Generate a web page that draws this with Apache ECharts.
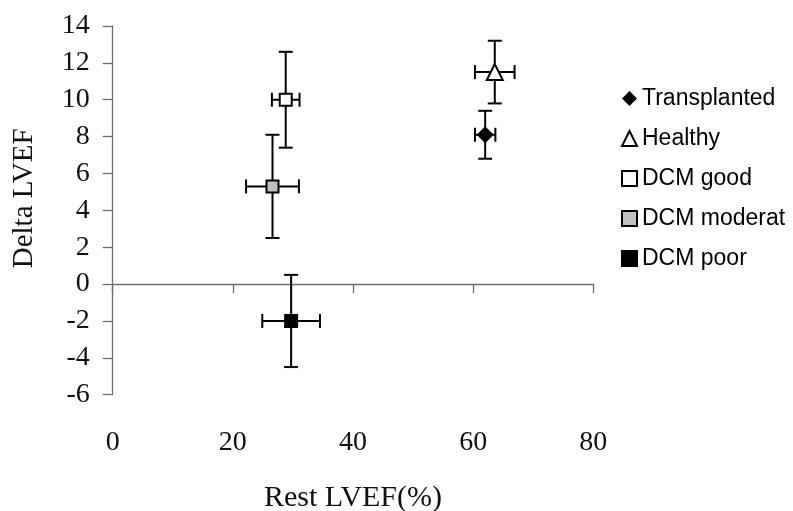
<!DOCTYPE html>
<html>
<head>
<meta charset="utf-8">
<script src="https://cdn.jsdelivr.net/npm/echarts@6/dist/echarts.min.js"></script>
<style>html,body{margin:0;padding:0;background:#fff}#c{width:793px;height:511px}</style>
</head>
<body>
<div id="c"></div>
<script>
const categories = ['Transplanted', 'Healthy', 'DCM good', 'DCM moderat', 'DCM poor'];
const restLVEF = [62.0, 63.6, 28.8, 26.6, 29.7];
const deltaLVEF = [8.1, 11.5, 10.0, 5.3, -2.0];
const restErr = [1.7, 3.3, 2.3, 4.4, 4.8];
const deltaErr = [1.3, 1.7, 2.6, 2.8, 2.5];
const xRange = [0, 80, 20];
const yRange = [-6, 14, 2];
const symbols = ['diamond', 'triangle', 'rect', 'rect', 'rect'];
const symbolSizes = [17, 16, 12, 12, 12];
const fills = ['#000000', '#ffffff', '#ffffff', '#c0c0c0', '#000000'];

const serif = '"Liberation Serif", "DejaVu Serif", serif';
const sans = '"Liberation Sans", Arial, sans-serif';
const axisGrey = '#6e6e6e';

const errData = categories.map((c, i) => [restLVEF[i], deltaLVEF[i], restErr[i], deltaErr[i]]);

const series = [{
  type: 'custom',
  name: 'errors',
  coordinateSystem: 'cartesian2d',
  xAxisIndex: 0, yAxisIndex: 0,
  encode: { x: 0, y: 1 },
  z: 1,
  silent: true,
  data: errData,
  renderItem: function (params, api) {
    const x = api.value(0), y = api.value(1), ex = api.value(2), ey = api.value(3);
    const top = api.coord([x, y + ey]);
    const bot = api.coord([x, y - ey]);
    const lft = api.coord([x - ex, y]);
    const rgt = api.coord([x + ex, y]);
    const cap = 7;
    const st = { stroke: '#000', lineWidth: 2 };
    return {
      type: 'group',
      children: [
        { type: 'line', shape: { x1: top[0], y1: top[1], x2: bot[0], y2: bot[1] }, style: st },
        { type: 'line', shape: { x1: top[0] - cap, y1: top[1], x2: top[0] + cap, y2: top[1] }, style: st },
        { type: 'line', shape: { x1: bot[0] - cap, y1: bot[1], x2: bot[0] + cap, y2: bot[1] }, style: st },
        { type: 'line', shape: { x1: lft[0], y1: lft[1], x2: rgt[0], y2: rgt[1] }, style: st },
        { type: 'line', shape: { x1: lft[0], y1: lft[1] - cap, x2: lft[0], y2: lft[1] + cap }, style: st },
        { type: 'line', shape: { x1: rgt[0], y1: rgt[1] - cap, x2: rgt[0], y2: rgt[1] + cap }, style: st }
      ]
    };
  }
}];

categories.forEach((name, i) => {
  series.push({
    type: 'scatter',
    name: name,
    xAxisIndex: 0, yAxisIndex: 0,
    symbol: symbols[i],
    symbolSize: symbolSizes[i],
    z: 5,
    itemStyle: {
      color: fills[i],
      borderColor: '#000',
      borderWidth: symbols[i] === 'diamond' ? 0 : 2,
      opacity: 1
    },
    emphasis: { disabled: true },
    data: [[restLVEF[i], deltaLVEF[i]]]
  });
});

const chart = echarts.init(document.getElementById('c'), null, { renderer: 'canvas' });
chart.setOption({
  animation: false,
  backgroundColor: '#ffffff',
  grid: { left: 112.7, right: 199.7, top: 26, bottom: 116.3, containLabel: false, outerBoundsMode: 'none' },
  legend: {
    orient: 'vertical',
    left: 616, top: 82,
    itemWidth: 15, itemHeight: 15,
    itemGap: 17,
    itemTextGap: 9,
    data: categories,
    textStyle: { fontFamily: sans, fontSize: 23, color: '#000' },
    selectedMode: false
  },
  xAxis: [{
    type: 'value',
    min: xRange[0], max: xRange[1], interval: xRange[2],
    position: 'bottom',
    axisLine: { show: false, onZero: false },
    axisTick: { show: false },
    splitLine: { show: false },
    axisLabel: { margin: 34, fontFamily: serif, fontSize: 28, color: '#111' },
    name: 'Rest LVEF(%)',
    nameLocation: 'middle',
    nameGap: 88,
    nameTextStyle: { fontFamily: serif, fontSize: 30, color: '#111' }
  }, {
    type: 'value',
    min: xRange[0], max: xRange[1], interval: xRange[2],
    position: 'bottom',
    axisLine: { show: true, onZero: true, lineStyle: { color: axisGrey, width: 1.3 } },
    axisTick: { show: true, length: 9, lineStyle: { color: axisGrey, width: 1.3 } },
    axisLabel: { show: false },
    splitLine: { show: false }
  }],
  yAxis: {
    type: 'value',
    min: yRange[0], max: yRange[1], interval: yRange[2],
    axisLine: { show: true, onZero: false, lineStyle: { color: axisGrey, width: 1.3 } },
    axisTick: { show: true, length: 10, lineStyle: { color: axisGrey, width: 1.3 } },
    splitLine: { show: false },
    axisLabel: { margin: 23, fontFamily: serif, fontSize: 28, color: '#111' },
    name: 'Delta LVEF',
    nameLocation: 'middle',
    nameRotate: 90,
    nameGap: 74,
    nameTextStyle: { fontFamily: serif, fontSize: 29, color: '#111', padding: [0, 0, 0, 24] }
  },
  series: series
});
</script>
</body>
</html>
